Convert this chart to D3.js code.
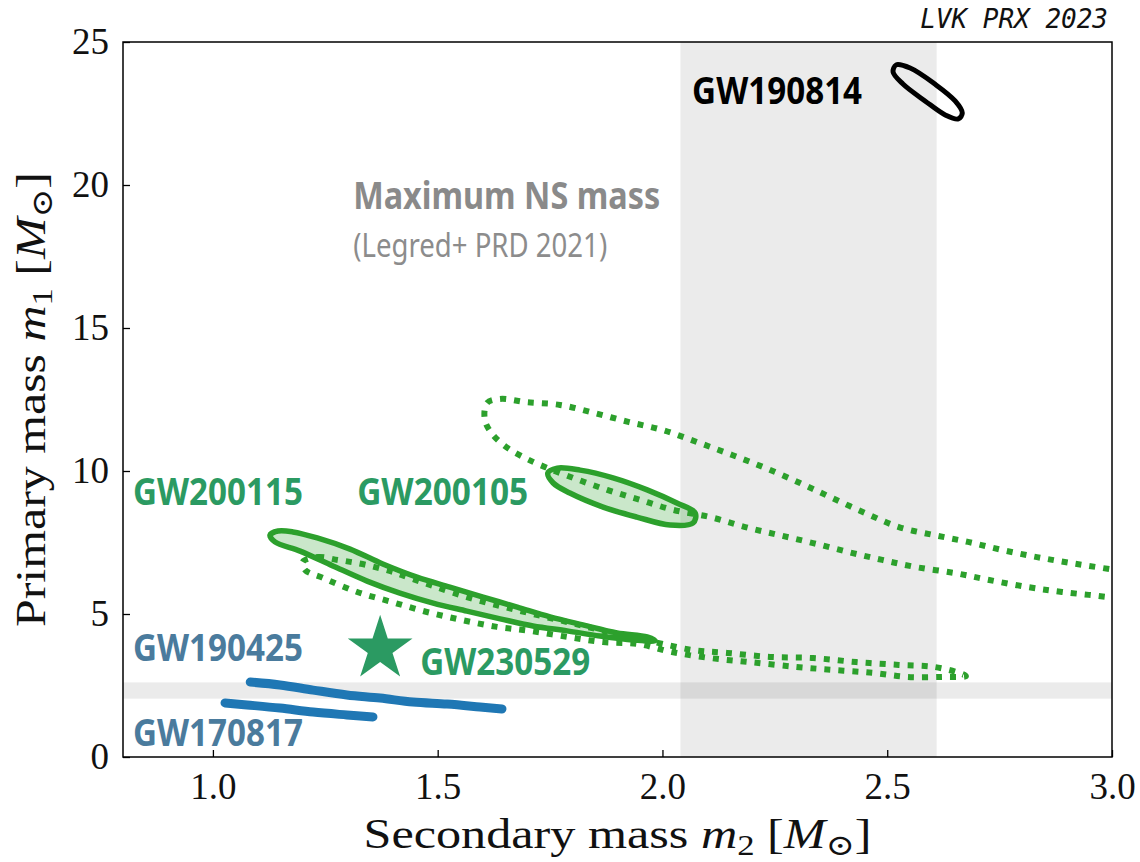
<!DOCTYPE html>
<html>
<head>
<meta charset="utf-8">
<script src="https://cdn.jsdelivr.net/npm/d3@7"></script>
<style>
  body { margin: 0; background: #fff; }
  svg { display: block; }
</style>
</head>
<body>
<svg id="chart" width="1140" height="862"></svg>
<script>
// axes
const m2Domain = [0.8, 3.0];
const m1Domain = [0, 25];
const m2Ticks = [1.0, 1.5, 2.0, 2.5, 3.0];
const m1Ticks = [0, 5, 10, 15, 20, 25];

// maximum NS mass band (Legred+ PRD 2021), same range on both axes
const nsMaxBand = [2.04, 2.61];

// credible regions, [m2, m1] points
const gw190814 = [[2.520, 24.20], [2.551, 24.09], [2.606, 23.53], [2.651, 22.94], [2.667, 22.52],
  [2.658, 22.31], [2.629, 22.45], [2.584, 22.94], [2.535, 23.53], [2.513, 23.95]];

const gw200105 = [[1.745, 9.93], [1.766, 10.10], [1.817, 10.03], [1.890, 9.76], [1.966, 9.34],
  [2.032, 8.88], [2.073, 8.53], [2.068, 8.18], [2.017, 8.11], [1.943, 8.39], [1.868, 8.74],
  [1.794, 9.23], [1.757, 9.58]];

const gw200105Wide = [[1.610, 12.38], [1.639, 12.52], [1.697, 12.41], [1.772, 12.31], [1.848, 12.03],
  [1.926, 11.71], [2.001, 11.43], [2.077, 11.01], [2.155, 10.56], [2.230, 10.10], [2.306, 9.58],
  [2.373, 9.09], [2.451, 8.53], [2.526, 8.04], [2.604, 7.76], [2.680, 7.52], [2.755, 7.24],
  [2.833, 6.99], [2.909, 6.78], [2.994, 6.57], [3.085, 6.33], [3.085, 5.31], [3.005, 5.56],
  [2.889, 5.77], [2.813, 5.94], [2.727, 6.19], [2.651, 6.43], [2.564, 6.64], [2.489, 6.89],
  [2.413, 7.17], [2.335, 7.48], [2.259, 7.76], [2.184, 8.04], [2.106, 8.39], [2.024, 8.64],
  [1.950, 8.99], [1.877, 9.34], [1.801, 9.76], [1.728, 10.21], [1.690, 10.49], [1.656, 10.80],
  [1.623, 11.26], [1.605, 11.78]];

const gw200115 = [[1.127, 7.76], [1.145, 7.90], [1.178, 7.87], [1.232, 7.66], [1.305, 7.27],
  [1.378, 6.75], [1.454, 6.29], [1.527, 5.94], [1.601, 5.59], [1.677, 5.24], [1.750, 4.90],
  [1.823, 4.62], [1.899, 4.34], [1.966, 4.20], [1.984, 4.06], [1.935, 4.09], [1.861, 4.23],
  [1.788, 4.41], [1.712, 4.58], [1.639, 4.83], [1.565, 5.10], [1.490, 5.38], [1.416, 5.73],
  [1.343, 6.15], [1.267, 6.68], [1.194, 7.20], [1.138, 7.52]];

const gw200115Wide = [[1.200, 6.82], [1.234, 6.99], [1.278, 6.89], [1.321, 6.78], [1.361, 6.64],
  [1.401, 6.47], [1.438, 6.26], [1.490, 5.98], [1.565, 5.59], [1.639, 5.28], [1.712, 5.00],
  [1.788, 4.72], [1.861, 4.44], [1.935, 4.16], [1.981, 4.02], [2.068, 3.74], [2.144, 3.64],
  [2.239, 3.50], [2.335, 3.46], [2.431, 3.32], [2.526, 3.22], [2.604, 3.15], [2.660, 2.94],
  [2.675, 2.83], [2.622, 2.80], [2.546, 2.80], [2.469, 2.94], [2.384, 3.04], [2.297, 3.15],
  [2.193, 3.32], [2.106, 3.46], [2.021, 3.67], [1.946, 3.95], [1.868, 4.02], [1.788, 4.20],
  [1.705, 4.41], [1.632, 4.55], [1.554, 4.79], [1.476, 5.07], [1.398, 5.42], [1.321, 5.77],
  [1.245, 6.26], [1.205, 6.54]];

const gw190425 = [[1.083, 2.62], [1.149, 2.52], [1.223, 2.34], [1.298, 2.17], [1.372, 2.06],
  [1.445, 1.92], [1.521, 1.85], [1.594, 1.75], [1.643, 1.68]];

const gw170817 = [[1.027, 1.89], [1.076, 1.82], [1.149, 1.71], [1.223, 1.57], [1.298, 1.47],
  [1.356, 1.40]];

const gw230529 = [1.372, 3.78];

// text annotations: [text, m2, m1 at baseline, colour, weight, size, width]
const labels = [
  ["GW200115", 0.822, 8.81, "#2b9a62", 700, 37, 170],
  ["GW200105", 1.321, 8.81, "#2b9a62", 700, 37, 171],
  ["GW190425", 0.822, 3.36, "#4a7b9d", 700, 37, 170],
  ["GW170817", 0.822, 0.38, "#4a7b9d", 700, 37, 170],
  ["GW230529", 1.461, 2.87, "#2b9a62", 700, 37, 170],
  ["GW190814", 2.066, 22.83, "#000000", 700, 37, 170],
  ["Maximum NS mass", 1.312, 19.16, "#8a8a8a", 700, 37, 307],
  ["(Legred+ PRD 2021)", 1.312, 17.48, "#8c8c8c", 400, 32, 254]
];

const svg = d3.select("#chart");
const pl = 123, pr = 1112, pt = 42, pb = 757;

const x = d3.scaleLinear().domain(m2Domain).range([pl, pr]);
const y = d3.scaleLinear().domain(m1Domain).range([pb, pt]);

svg.append("defs").append("clipPath").attr("id", "plot")
  .append("rect").attr("x", pl).attr("y", pt)
  .attr("width", pr - pl).attr("height", pb - pt);

const plot = svg.append("g").attr("clip-path", "url(#plot)");

// NS max mass bands
plot.append("rect")
  .attr("x", x(nsMaxBand[0])).attr("width", x(nsMaxBand[1]) - x(nsMaxBand[0]))
  .attr("y", pt).attr("height", pb - pt)
  .attr("fill", "#000").attr("fill-opacity", 0.08);
plot.append("rect")
  .attr("x", pl).attr("width", pr - pl)
  .attr("y", y(nsMaxBand[1])).attr("height", y(nsMaxBand[0]) - y(nsMaxBand[1]))
  .attr("fill", "#000").attr("fill-opacity", 0.08);

const closed = d3.line().x(d => x(d[0])).y(d => y(d[1])).curve(d3.curveCatmullRomClosed.alpha(0.5));
const open = d3.line().x(d => x(d[0])).y(d => y(d[1])).curve(d3.curveCatmullRom.alpha(0.5));

const green = "#2ca02c";

// wide (dotted) regions
[gw200105Wide, gw200115Wide].forEach(pts => {
  plot.append("path").attr("d", closed(pts))
    .attr("fill", "none").attr("stroke", green)
    .attr("stroke-width", 6).attr("stroke-dasharray", "6 8");
});

// filled regions
[gw200115, gw200105].forEach(pts => {
  plot.append("path").attr("d", closed(pts))
    .attr("fill", green).attr("fill-opacity", 0.25)
    .attr("stroke", green).attr("stroke-width", 5.5);
});

plot.append("path").attr("d", closed(gw190814))
  .attr("fill", "none").attr("stroke", "#000").attr("stroke-width", 5);

[gw190425, gw170817].forEach(pts => {
  plot.append("path").attr("d", open(pts))
    .attr("fill", "none").attr("stroke", "#1f77b4")
    .attr("stroke-width", 9).attr("stroke-linecap", "round");
});

plot.append("path")
  .attr("d", d3.symbol(d3.symbolStar, 1300)())
  .attr("transform", `translate(${x(gw230529[0])},${y(gw230529[1])})`)
  .attr("fill", "#2b9a62");

// labels
svg.append("g").selectAll("text")
  .data(labels)
  .join("text")
  .attr("x", d => x(d[1]))
  .attr("y", d => y(d[2]))
  .attr("fill", d => d[3])
  .attr("font-family", "'Noto Sans', sans-serif")
  .attr("font-weight", d => d[4])
  .attr("font-size", d => d[5])
  .attr("textLength", d => d[6])
  .attr("lengthAdjust", "spacingAndGlyphs")
  .text(d => d[0]);

// axes
const serif = "'Liberation Serif', 'DejaVu Serif', serif";
const xAxis = svg.append("g")
  .attr("transform", `translate(0,${pb})`)
  .call(d3.axisBottom(x).tickValues(m2Ticks).tickFormat(d3.format(".1f"))
    .tickSizeInner(-7).tickSizeOuter(0).tickPadding(16));
const yAxis = svg.append("g")
  .attr("transform", `translate(${pl},0)`)
  .call(d3.axisLeft(y).tickValues(m1Ticks).tickFormat(d3.format("d"))
    .tickSizeInner(-7).tickSizeOuter(0).tickPadding(14));
[xAxis, yAxis].forEach(a => {
  a.select(".domain").remove();
  a.selectAll("line").attr("stroke", "#000").attr("stroke-width", 1.3);
  a.selectAll("text").attr("font-family", serif).attr("font-size", 37).attr("fill", "#111");
});

svg.append("rect")
  .attr("x", pl).attr("y", pt)
  .attr("width", pr - pl).attr("height", pb - pt)
  .attr("fill", "none").attr("stroke", "#000").attr("stroke-width", 1.5);

// axis titles
function mathTitle(g, word, idx) {
  const t = g.append("text").attr("font-family", serif).attr("font-size", 42)
    .attr("fill", "#111").attr("text-anchor", "middle");
  t.append("tspan").text(word + " ");
  t.append("tspan").attr("font-style", "italic").text("m");
  t.append("tspan").attr("font-size", 29).attr("dy", 7).text(idx);
  t.append("tspan").attr("dy", -7).text(" [");
  t.append("tspan").attr("font-style", "italic").text("M");
  t.append("tspan").attr("font-size", 29).attr("dy", 7).text("\u2299");
  t.append("tspan").attr("dy", -7).text("]");
  return t;
}

mathTitle(svg.append("g").attr("transform", `translate(${(pl + pr) / 2},848)`),
  "Secondary mass", "2").attr("textLength", 508).attr("lengthAdjust", "spacingAndGlyphs");
mathTitle(svg.append("g").attr("transform", `translate(45,${(pt + pb) / 2}) rotate(-90)`),
  "Primary mass", "1").attr("textLength", 455).attr("lengthAdjust", "spacingAndGlyphs");

svg.append("text")
  .attr("x", 1108).attr("y", 28)
  .attr("text-anchor", "end")
  .attr("font-family", "'DejaVu Sans Mono', monospace")
  .attr("font-style", "italic")
  .attr("font-size", 26)
  .attr("fill", "#111")
  .text("LVK PRX 2023");
</script>
</body>
</html>
